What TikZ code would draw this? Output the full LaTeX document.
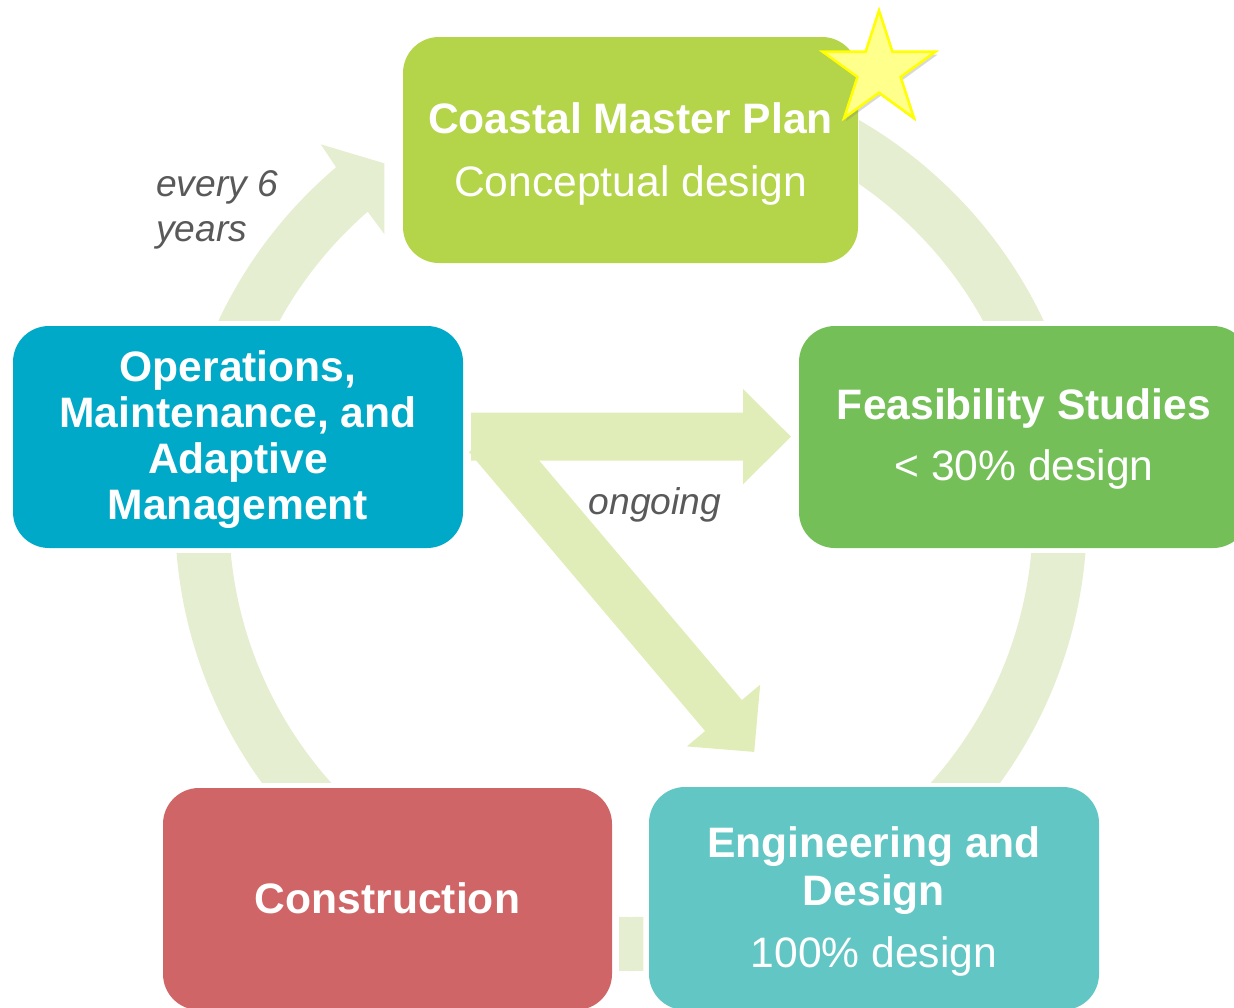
\documentclass[tikz,border=0pt]{standalone}
\usepackage{fontspec}
\setmainfont{Liberation Sans}
\usetikzlibrary{shadows}
\definecolor{cmpcol}{HTML}{B4D449}
\definecolor{feascol}{HTML}{75BF58}
\definecolor{opscol}{HTML}{00A9C7}
\definecolor{conscol}{HTML}{D06567}
\definecolor{engcol}{HTML}{62C6C5}
\definecolor{ringcol}{HTML}{E5EED0}
\definecolor{ongcol}{HTML}{E1EDB8}
\definecolor{labelgray}{HTML}{595959}
\definecolor{starfill}{HTML}{FFFF8C}
\definecolor{starline}{HTML}{FFFF00}
\begin{document}
\begin{tikzpicture}[x=1pt,y=-1pt,
  box/.style={rectangle, rounded corners=36pt, inner sep=0pt, draw=none},
  titletext/.style={anchor=base, inner sep=0pt, text=white, font=\fontsize{42.6}{46}\selectfont\bfseries},
  subtext/.style={anchor=base, inner sep=0pt, text=white, font=\fontsize{42.6}{46}\selectfont},
  labeltext/.style={inner sep=0pt, text=labelgray, font=\fontsize{37.2}{44}\selectfont\itshape},
  ringfill/.style={fill=ringcol},
  ongfill/.style={fill=ongcol},
  starstyle/.style={fill=starfill, draw=starline, line width=2.5pt, line join=miter,
    drop shadow={opacity=0.3, shadow xshift=2pt, shadow yshift=-3pt}}]
\useasboundingbox (0,0) rectangle (1234,1007);
\coordinate (C) at (631,515);

% ring segments
\begin{scope}
  \clip (859,0) rectangle (1234,320);
  \fill[ringfill, even odd rule] (C) circle[radius=456] (C) circle[radius=402];
\end{scope}
\begin{scope}
  \clip (700,553) rectangle (1234,782);
  \fill[ringfill, even odd rule] (C) circle[radius=456] (C) circle[radius=402];
\end{scope}
\begin{scope}
  \clip (0,553) rectangle (600,782);
  \fill[ringfill, even odd rule] (C) circle[radius=456] (C) circle[radius=402];
\end{scope}
\begin{scope}
  \clip (619,900) rectangle (643.3,1007);
  \fill[ringfill, even odd rule] (C) circle[radius=456] (C) circle[radius=402];
\end{scope}
% top-left arrow
\begin{scope}
  \clip (0,0) rectangle (400,320);
  \fill[ringfill] (C) ++(-162:456) arc[start angle=-162, end angle=-130.3, radius=456]
    -- (320.7,144.3) -- (384.3,163.3) -- (384.3,234) -- (367.7,211.7)
    arc[start angle=-131, end angle=-162, radius=402] -- cycle;
\end{scope}

% ongoing arrows
\fill[ongfill] (471,412.7) -- (743,412.7) -- (743,389) -- (791,436.7) -- (743,484.3)
  -- (743,460.7) -- (471,460.7) -- cycle;
\fill[ongfill] (469,452.1) -- (705.1,731) -- (686.8,746.4) -- (754.2,751.9)
  -- (760.2,684.6) -- (741.9,700) -- (505.8,421.1) -- cycle;

% boxes
\node[box, fill=cmpcol, minimum width=455pt, minimum height=226pt] (cmp) at (630.5,150) {};
\node[box, fill=opscol, minimum width=450pt, minimum height=222pt] (ops) at (238,437) {};
\node[box, fill=feascol, minimum width=450pt, minimum height=222pt] (feas) at (1024,437) {};
\node[box, fill=conscol, minimum width=449pt, minimum height=222pt] (cons) at (387.5,899) {};
\node[box, fill=engcol, minimum width=450pt, minimum height=223pt] (eng) at (874,898.5) {};

% box texts
\node[titletext] (cmpA) at (630.5,133) {Coastal Master Plan};
\node[subtext] (cmpB) at (630.5,196) {Conceptual design};
\node[titletext] (opsA) at (238,381) {Operations,};
\node[titletext] (opsB) at (238,427) {Maintenance, and};
\node[titletext] (opsC) at (238,473) {Adaptive};
\node[titletext] (opsD) at (238,519) {Management};
\node[titletext] (feasA) at (1024,419) {Feasibility Studies};
\node[subtext] (feasB) at (1024,480) {< 30\% design};
\node[titletext] (consA) at (387.5,913) {Construction};
\node[titletext] (engA) at (874,857) {Engineering and};
\node[titletext] (engB) at (874,905) {Design};
\node[subtext] (engC) at (874,967) {100\% design};

% labels
\node[labeltext, anchor=base west] (lab1) at (156,196) {every 6};
\node[labeltext, anchor=base west] (lab2) at (156,241) {years};
\node[labeltext, anchor=base] (lab3) at (655,514) {ongoing};

% star
\coordinate (SC) at (879,70);
\path[starstyle] (SC) +(-90:59.5) -- +(-54:22.7) -- +(-18:59.5) -- +(18:22.7) -- +(54:59.5)
  -- +(90:22.7) -- +(126:59.5) -- +(162:22.7) -- +(198:59.5) -- +(234:22.7) -- cycle;
\end{tikzpicture}
\end{document}
